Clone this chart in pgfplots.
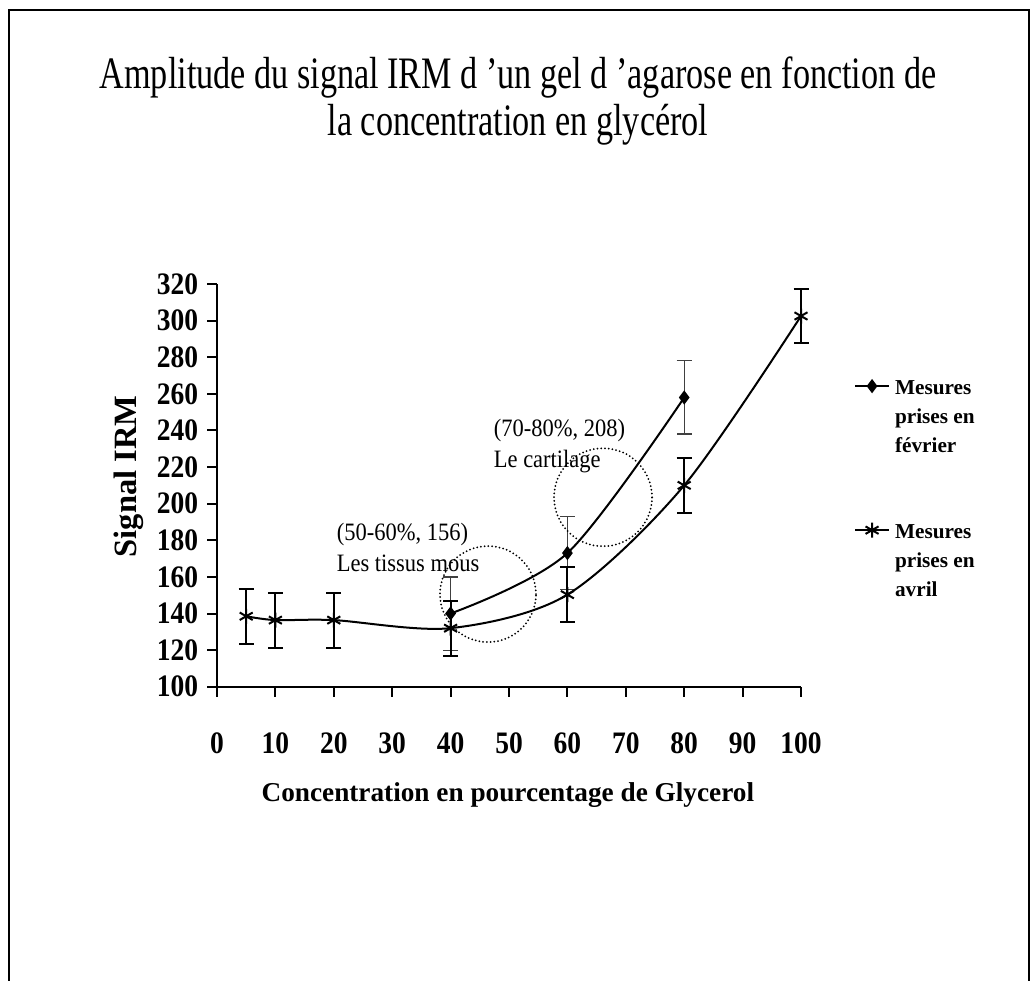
\documentclass[border=0pt]{standalone}
\usepackage{fontspec}
\setmainfont{Liberation Serif}
\newfontfamily\condfont[FakeStretch=0.9]{Liberation Serif}
\newfontfamily\titlefont[FakeStretch=0.76]{Liberation Serif}
\newfontfamily\tickfont[FakeStretch=0.88]{Liberation Serif}
\usepackage{pgfplots}
\pgfplotsset{compat=1.18}

\begin{document}
\begin{tikzpicture}
\useasboundingbox (0pt,0pt) rectangle (414.4pt,392.4pt);
% frame of the page
\draw[line width=0.8pt] (3.6pt,-2pt) -- (3.6pt,388.4pt) -- (411.6pt,388.4pt) -- (411.6pt,-2pt);
\node[align=center, font=\titlefont\fontsize{18}{19}\selectfont] at (207.2pt,352pt)
  {Amplitude du signal IRM d ’un gel d ’agarose en fonction de\\la concentration en glycérol};

\begin{axis}[
    at={(86.8pt,117.7pt)}, anchor=south west,
    scale only axis, width=233.6pt, height=161.1pt,
    xmin=0, xmax=100, ymin=100, ymax=320,
    xtick={0,10,...,100}, ytick={100,120,...,320},
    axis lines=left, axis line style={-, line width=0.8pt},
    tick align=outside, major tick length=4pt,
    tick style={line width=0.8pt, black},
    ticklabel style={font=\tickfont\fontsize{12.5}{14}\selectfont\bfseries},
    /pgf/number format/assume math mode=true,
    xticklabel style={yshift=-11pt},
    xlabel={Concentration en pourcentage de Glycerol},
    xlabel style={at={(axis description cs:0.498,-0.27)}, anchor=center,
                  font=\fontsize{10.9}{13}\selectfont\bfseries},
    ylabel={Signal IRM},
    ylabel style={at={(axis description cs:-0.151,0.522)}, anchor=center,
                  font=\fontsize{13}{15}\selectfont\bfseries},
    clip=false,
    legend style={at={(1.09,0.79)}, anchor=north west, draw=none, fill=none,
                  font=\fontsize{8.5}{11.6}\selectfont\bfseries, inner sep=0pt,
                  row sep=44pt},
    legend cell align=left,
    legend image code/.code={%
        \draw[mark repeat=2, mark phase=2, #1]
            plot coordinates {(0pt,0pt) (6.8pt,0pt) (13.6pt,0pt)};},
]

\addplot[black, line width=0.8pt, smooth, mark=diamond*, mark size=2.2pt,
    error bars/.cd, y dir=both, y explicit,
    error bar style={line width=0.5pt, black!75},
    error mark options={rotate=90, mark size=3pt, line width=0.5pt, black!75}]
    coordinates {
    (40,140) +- (0,20)
    (60,173) +- (0,20)
    (80,258) +- (0,20)
};
\addlegendentry{\begin{tabular}[t]{@{}l@{}}Mesures\\prises en\\février\end{tabular}}

\addplot[black, line width=0.8pt, smooth, mark=asterisk, mark size=3pt,
    error bars/.cd, y dir=both, y explicit,
    error bar style={line width=0.8pt, black},
    error mark options={rotate=90, mark size=3pt, line width=0.8pt, black}]
    coordinates {
    (5,138.5) +- (0,15)
    (10,136.4) +- (0,15)
    (20,136.4) +- (0,15)
    (40,132) +- (0,15)
    (60,150.3) +- (0,15)
    (80,210) +- (0,15)
    (100,302.5) +- (0,15)
};
\addlegendentry{\begin{tabular}[t]{@{}l@{}}Mesures\\prises en\\avril\end{tabular}}

% annotations
\node[align=left, anchor=west, font=\condfont\fontsize{10}{12.4}\selectfont]
    at (axis cs:19,176.1) {(50-60\%, 156)\\Les tissus mous};
\node[align=left, anchor=west, font=\condfont\fontsize{10}{12.4}\selectfont]
    at (axis cs:45.9,231.3) {(70-80\%, 208)\\Le cartilage};
\node[draw, circle, minimum size=38.4pt, inner sep=0pt, line width=0.8pt,
      dash pattern=on 0pt off 1.5pt, line cap=round] at (axis cs:46.4,150.6) {};
\node[draw, circle, minimum size=39.2pt, inner sep=0pt, line width=0.8pt,
      dash pattern=on 0pt off 1.5pt, line cap=round] at (axis cs:66.1,203.5) {};
\end{axis}
\end{tikzpicture}
\end{document}
